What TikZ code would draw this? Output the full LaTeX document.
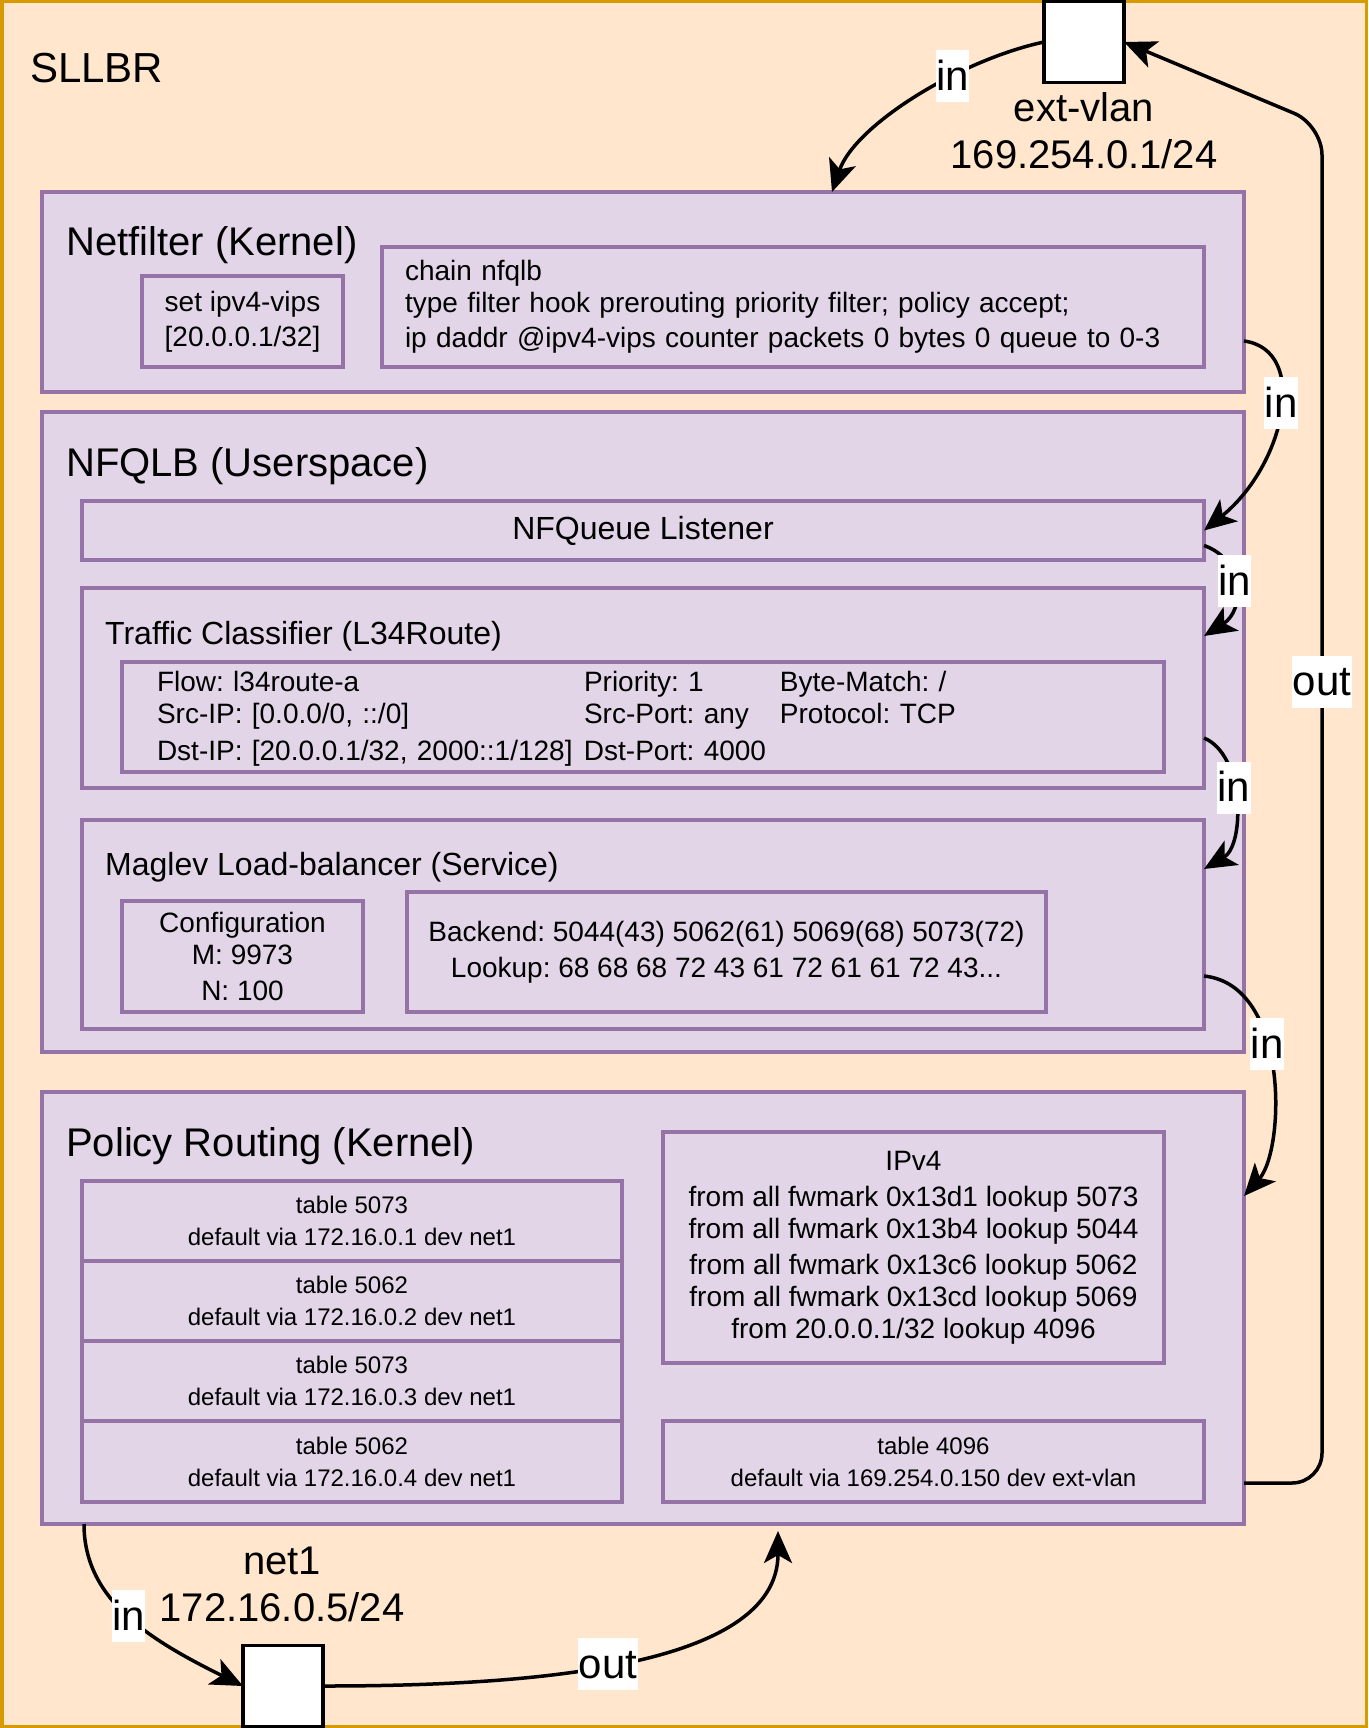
\documentclass[tikz,border=0pt]{standalone}
\usepackage{fontspec}
\setmainfont{Liberation Sans}
\usetikzlibrary{arrows.meta,calc}
\definecolor{peach}{HTML}{FFE6CC}
\definecolor{amber}{HTML}{D79B00}
\definecolor{lilac}{HTML}{E1D5E7}
\definecolor{plum}{HTML}{9673A6}
\frenchspacing

\begin{document}
\begin{tikzpicture}[x=1pt,y=-1pt,
  layer/.style={draw=plum, fill=lilac, line width=3.5pt, anchor=north west, inner sep=0pt, outer sep=0pt},
  rule/.style={draw=plum, line width=3.5pt, anchor=north west, outer sep=0pt, align=center},
  port/.style={draw=black, fill=white, line width=3.5pt, minimum width=80pt, minimum height=81pt, outer sep=0pt},
  title/.style={anchor=west, inner sep=0pt, font=\fontsize{40}{47}\selectfont},
  subtitle/.style={anchor=west, inner sep=0pt, font=\fontsize{32}{38}\selectfont},
  body/.style={font=\fontsize{28}{32}\selectfont},
  fine/.style={font=\fontsize{24}{32}\selectfont},
  head/.style={font=\fontsize{40}{47}\selectfont},
  conn/.style={draw=black, line width=3.5pt, -{Stealth[length=32pt,width=28pt,inset=8pt]}},
  lbl/.style={fill=white, sharp corners, inner xsep=0.5pt, inner ysep=0pt, text height=40pt, text depth=12pt, font=\fontsize{42}{42}\selectfont}]
\useasboundingbox (0,0) rectangle (1368,1728);
\draw[draw=amber, fill=peach, line width=3.5pt] (1.75,1.75) rectangle (1366.25,1726.25);
\node[anchor=west, inner sep=0pt, font=\fontsize{42}{42}\selectfont] (sllbr) at (30,68) {SLLBR};

% ports
\node[port] (ext) at (1084,42) {};
\node[head, align=center] (extlbl) at (1084,131) {ext-vlan\\169.254.0.1/24};
\node[port] (net1) at (283,1686) {};
\node[head, align=center] (net1lbl) at (282,1584) {net1\\172.16.0.5/24};

% netfilter
\node[layer, minimum width=1202pt, minimum height=200pt] (netfilter) at (42,192) {};
\node[title] at (66,245) {Netfilter (Kernel)};
\node[rule, body, minimum width=201pt, minimum height=91pt] (vips) at (142,276) {set ipv4-vips\\[3pt][20.0.0.1/32]};
\node[rule, body, minimum height=120pt, text width=776pt, inner xsep=23pt, align=left] (chain) at (382,247) {chain nfqlb\\type filter hook prerouting priority filter; policy accept;\\[3pt]ip daddr @ipv4-vips counter packets 0 bytes 0 queue to 0-3};

% nfqlb
\node[layer, minimum width=1202pt, minimum height=640pt] (nfqlb) at (42,412) {};
\node[title] at (66,466) {NFQLB (Userspace)};
\node[rule, minimum width=1122pt, minimum height=59pt, font=\fontsize{32}{38}\selectfont] (listener) at (82,501) {NFQueue Listener};
\node[rule, minimum width=1122pt, minimum height=200pt] (classifier) at (82,588) {};
\node[subtitle] at (105,636) {Traffic Classifier (L34Route)};
\node[rule, body, minimum height=110pt, text width=972pt, inner xsep=35pt, align=left] (flow) at (122,662) {\raisebox{-3pt}[\height][\depth]{\begin{tabular}{@{}p{427pt}@{}p{196pt}@{}l@{}}
Flow: l34route-a & Priority: 1 & Byte-Match: /\\
Src-IP: [0.0.0/0, ::/0] & Src-Port: any & Protocol: TCP\\[5pt]
Dst-IP: [20.0.0.1/32, 2000::1/128] & Dst-Port: 4000 & \end{tabular}}};
\node[rule, minimum width=1122pt, minimum height=209pt] (maglev) at (82,820) {};
\node[subtitle] at (105,867) {Maglev Load-balancer (Service)};
\node[rule, body, minimum width=241pt, minimum height=111pt] (config) at (122,901) {Configuration\\M: 9973\\[4pt]N: 100};
\node[rule, body, minimum width=639pt, minimum height=120pt] (backend) at (407,892) {Backend: 5044(43) 5062(61) 5069(68) 5073(72)\\[4pt]Lookup: 68 68 68 72 43 61 72 61 61 72 43...};

% policy routing
\node[layer, minimum width=1202pt, minimum height=432pt] (policy) at (42,1092) {};
\node[title] at (66,1146) {Policy Routing (Kernel)};
\node[rule, fine, minimum width=540pt, minimum height=80pt] (tbl1) at (82,1181) {table 5073\\default via 172.16.0.1 dev net1};
\node[rule, fine, minimum width=540pt, minimum height=80pt] (tbl2) at (82,1261) {table 5062\\default via 172.16.0.2 dev net1};
\node[rule, fine, minimum width=540pt, minimum height=80pt] (tbl3) at (82,1341) {table 5073\\default via 172.16.0.3 dev net1};
\node[rule, fine, minimum width=540pt, minimum height=81pt] (tbl4) at (82,1421) {table 5062\\default via 172.16.0.4 dev net1};
\node[rule, body, minimum width=501pt, minimum height=231pt] (ipv4) at (663,1132) {IPv4\\[4pt]from all fwmark 0x13d1 lookup 5073\\from all fwmark 0x13b4 lookup 5044\\[4pt]from all fwmark 0x13c6 lookup 5062\\from all fwmark 0x13cd lookup 5069\\from 20.0.0.1/32 lookup 4096};
\node[rule, fine, minimum width=541pt, minimum height=81pt] (t4096) at (663,1421) {table 4096\\default via 169.254.0.150 dev ext-vlan};

% connectors
\draw[conn] (ext.west) .. controls (960,60) and (855,125) .. ($(netfilter.north west)+(790,0)$) node[lbl, pos=0.35] {in};
\draw[conn] ($(netfilter.south east)+(0,-51)$) .. controls (1310,350) and (1285,465) .. (listener.east) node[lbl, pos=0.45] {in};
\draw[conn] ($(listener.east)+(0,15)$) .. controls (1245,560) and (1245,610) .. ($(classifier.north east)+(0,48)$) node[lbl, pos=0.45] {in};
\draw[conn] ($(classifier.south east)+(0,-50)$) .. controls (1245,755) and (1245,845) .. ($(maglev.north east)+(0,49)$) node[lbl, pos=0.42] {in};
\draw[conn] ($(maglev.south east)+(0,-53)$) .. controls (1290,985) and (1285,1150) .. ($(policy.north east)+(0,104)$) node[lbl, pos=0.4] {in};
\coordinate (bend) at (1322,125);
\draw[conn, rounded corners=30pt] ($(policy.south east)+(0,-41)$) -| (bend) node[lbl, pos=0.795] {out} -- (ext.east);
\draw[conn] ($(policy.south west)+(42,0)$) .. controls (84,1600) and (150,1640) .. (net1.west) node[lbl, pos=0.5] {in};
\draw[conn] (net1.east) .. controls (520,1686) and (778,1670) .. ($(policy.south west)+(736,7)$) node[lbl, pos=0.47] {out};
\end{tikzpicture}
\end{document}
